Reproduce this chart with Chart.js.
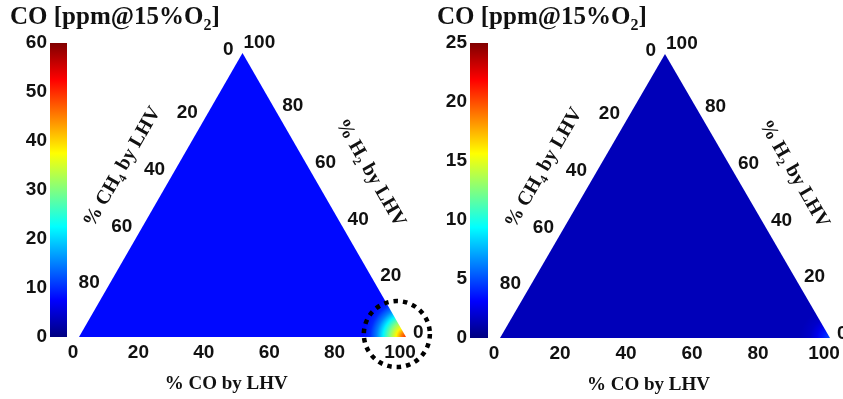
<!DOCTYPE html>
<html>
<head>
<meta charset="utf-8">
<script src="https://cdn.jsdelivr.net/npm/chart.js@4.4.0/dist/chart.umd.min.js"></script>
<style>
  html, body { margin: 0; padding: 0; background: #fff; }
  #wrap { position: relative; width: 843px; height: 399px; overflow: hidden; }
  canvas { position: absolute; top: 0; }
</style>
</head>
<body>
<div id="wrap">
  <canvas id="triL"></canvas><canvas id="barL"></canvas>
  <canvas id="triR"></canvas><canvas id="barR"></canvas>
</div>
<script>
// --- data ---
const coTicks = [0, 20, 40, 60, 80, 100];      // % CO by LHV (bottom edge)
const h2Ticks = [0, 20, 40, 60, 80, 100];      // % H2 by LHV (right edge)
const ch4Ticks = [0, 20, 40, 60, 80];          // % CH4 by LHV (left edge)

const cbMaxLeft = 60, cbStepLeft = 10;
const cbMaxRight = 25, cbStepRight = 5;

// background CO level over most of the triangle [ppm]
const baseCOLeft = 8;
const baseCORight = 1.4;

// CO near the pure-CO corner, by distance from the corner (% units)
const hotDistLeft = [0, 1.5, 3, 5, 7, 9, 11, 13];
const hotCOLeft   = [50, 45, 38, 30, 22, 15, 10, 8];
const hotDistRight = [0, 2, 4, 6, 9];
const hotCORight   = [5, 3.8, 2.6, 1.8, 1.4];

// text
const cbTitle  = ['CO [ppm@15%O', '2', ']'];
const coTitle  = ['% CO by LHV'];
const ch4Title = ['% CH', '4', ' by LHV'];
const h2Title  = ['% H', '2', ' by LHV'];

// --- layout ---
const H = 399;
const S32 = Math.sqrt(3) / 2;
const TICK_FONT = 'bold 19px "Liberation Sans", Arial, sans-serif';
const SERIF = '"Liberation Serif", "Times New Roman", serif';

const panels = [
  { key: 'L', left: 0, width: 445, cbMax: cbMaxLeft, cbStep: cbStepLeft,
    baseCO: baseCOLeft, hotDist: hotDistLeft, hotCO: hotCOLeft,
    px0: 79, px100: 406, pyBase: 337, pyApex: 53,
    cbLabelW: 50, cbW: 67, cbTop: 43, cbBottom: 337, titleX: 10, circle: true },
  { key: 'R', left: 421, width: 422, cbMax: cbMaxRight, cbStep: cbStepRight,
    baseCO: baseCORight, hotDist: hotDistRight, hotCO: hotCORight,
    px0: 79, px100: 409, pyBase: 338, pyApex: 54,
    cbLabelW: 49, cbW: 67, cbTop: 43, cbBottom: 338, titleX: 16, circle: false }
];

function jet(t) {
  t = Math.max(0, Math.min(1, t));
  const c = v => Math.round(255 * Math.max(0, Math.min(1, v)));
  return `rgb(${c(1.5 - Math.abs(4 * t - 3))},${c(1.5 - Math.abs(4 * t - 2))},${c(1.5 - Math.abs(4 * t - 1))})`;
}

// ternary (CO a, H2 h) -> cartesian
function tern(a, h) {
  return { x: a + h / 2, y: h * S32 };
}

// draws text parts, odd parts as subscripts
function drawRich(ctx, parts, x, y, size, align) {
  const subSize = Math.round(size * 0.62);
  let total = 0;
  const widths = parts.map((p, i) => {
    ctx.font = `bold ${i % 2 ? subSize : size}px ${SERIF}`;
    const w = ctx.measureText(p).width;
    total += w;
    return w;
  });
  let cx = align === 'center' ? x - total / 2 : x;
  parts.forEach((p, i) => {
    ctx.font = `bold ${i % 2 ? subSize : size}px ${SERIF}`;
    ctx.fillText(p, cx, i % 2 ? y + size * 0.22 : y);
    cx += widths[i];
  });
}

function heatFill(chart, p) {
  const { ctx, chartArea, scales } = chart;
  const base = jet(p.baseCO / p.cbMax);
  if (!chartArea) return base;
  const cx = scales.x.getPixelForValue(100);
  const cy = scales.y.getPixelForValue(0);
  const rMax = p.hotDist[p.hotDist.length - 1];
  const r = cx - scales.x.getPixelForValue(100 - rMax);
  const g = ctx.createRadialGradient(cx, cy, 0, cx, cy, r);
  p.hotDist.forEach((d, i) => g.addColorStop(d / rMax, jet(p.hotCO[i] / p.cbMax)));
  return g;
}

function cbGradient(chart) {
  const { ctx, chartArea } = chart;
  if (!chartArea) return jet(0);
  const g = ctx.createLinearGradient(0, chartArea.bottom, 0, chartArea.top);
  for (let i = 0; i <= 8; i++) g.addColorStop(i / 8, jet(i / 8));
  return g;
}

const ternaryText = {
  id: 'ternaryText',
  afterDatasetsDraw(chart, args, opts) {
    const p = opts.panel;
    const { ctx, scales: { x, y } } = chart;
    const px = pt => [x.getPixelForValue(pt.x), y.getPixelForValue(pt.y)];
    ctx.save();
    ctx.fillStyle = '#111';
    ctx.font = TICK_FONT;
    ctx.textBaseline = 'middle';

    // CO ticks under the base
    ctx.textAlign = 'center';
    coTicks.forEach(v => {
      const [X, Y] = px(tern(v, 0));
      ctx.fillText(String(v), X - 6, Y + 16);
    });
    // CH4 ticks left of the left edge
    ctx.textAlign = 'right';
    ch4Ticks.forEach(v => {
      const [X, Y] = px(tern(0, 100 - v));
      if (v === 0) ctx.fillText(String(v), X - 9, Y - 3);
      else ctx.fillText(String(v), X - 12, Y + 3);
    });
    // H2 ticks right of the right edge
    ctx.textAlign = 'left';
    h2Ticks.forEach(v => {
      const [X, Y] = px(tern(100 - v, v));
      if (v === 100) ctx.fillText(String(v), X + 1, Y - 10);
      else ctx.fillText(String(v), X + 7, Y - 4);
    });

    // axis titles
    ctx.textBaseline = 'alphabetic';
    const [cX, cY] = px({ x: 45, y: 0 });
    drawRich(ctx, coTitle, cX, cY + 52, 19, 'center');

    const [lX, lY] = px({ x: 12.8, y: 52.1 });
    ctx.save();
    ctx.translate(lX, lY);
    ctx.rotate(-Math.PI / 3);
    drawRich(ctx, ch4Title, 0, 7, 20, 'center');
    ctx.restore();

    const [rX, rY] = px({ x: 89.6, y: 50.3 });
    ctx.save();
    ctx.translate(rX, rY);
    ctx.rotate(Math.PI / 3);
    drawRich(ctx, h2Title, 0, 7, 20, 'center');
    ctx.restore();

    // colour bar title
    drawRich(ctx, cbTitle, p.titleX, 24, 25, 'left');

    // dotted ring round the hot corner
    if (p.circle) {
      const [oX, oY] = px({ x: 97.2, y: 0.9 });
      const r = x.getPixelForValue(10.1) - x.getPixelForValue(0);
      ctx.beginPath();
      ctx.setLineDash([4.5, 5]);
      ctx.lineWidth = 4.5;
      ctx.strokeStyle = '#000';
      ctx.arc(oX, oY, r, 0, Math.PI * 2);
      ctx.stroke();
    }
    ctx.restore();
  }
};

panels.forEach(p => {
  // ternary plot
  const tri = document.getElementById('tri' + p.key);
  tri.width = p.width; tri.height = H;
  tri.style.left = p.left + 'px';
  const kx = (p.px100 - p.px0) / 100;
  const ky = (p.pyBase - p.pyApex) / (100 * S32);

  new Chart(tri, {
    type: 'scatter',
    data: {
      datasets: [{
        data: [tern(0, 0), tern(0, 100), tern(100, 0)],
        showLine: true,
        fill: 'origin',
        tension: 0,
        pointRadius: 0,
        borderWidth: 0,
        borderColor: 'transparent',
        backgroundColor: c => heatFill(c.chart, p)
      }]
    },
    options: {
      responsive: false,
      animation: false,
      events: [],
      layout: { padding: 0 },
      plugins: {
        legend: { display: false },
        tooltip: { enabled: false },
        ternaryText: { panel: p }
      },
      scales: {
        x: { type: 'linear', display: false, min: -p.px0 / kx, max: (p.width - p.px0) / kx },
        y: { type: 'linear', display: false, min: -(H - p.pyBase) / ky, max: p.pyBase / ky }
      }
    },
    plugins: [ternaryText]
  });

  // colour bar
  const bar = document.getElementById('bar' + p.key);
  bar.width = p.cbW; bar.height = H;
  bar.style.left = p.left + 'px';
  new Chart(bar, {
    type: 'bar',
    data: {
      labels: ['CO'],
      datasets: [{
        data: [[0, p.cbMax]],
        backgroundColor: c => cbGradient(c.chart),
        borderWidth: 0,
        barPercentage: 1,
        categoryPercentage: 1
      }]
    },
    options: {
      responsive: false,
      animation: false,
      events: [],
      layout: { padding: { top: p.cbTop, bottom: H - p.cbBottom, left: 0, right: 0 } },
      plugins: { legend: { display: false }, tooltip: { enabled: false } },
      scales: {
        x: { display: false },
        y: {
          min: 0, max: p.cbMax,
          ticks: { stepSize: p.cbStep, color: '#111', padding: 3,
                   font: { family: '"Liberation Sans", Arial, sans-serif', weight: 'bold', size: 19 } },
          grid: { display: false, drawTicks: false },
          border: { display: false },
          afterFit: s => { s.width = p.cbLabelW; }
        }
      }
    }
  });
});
</script>
</body>
</html>
